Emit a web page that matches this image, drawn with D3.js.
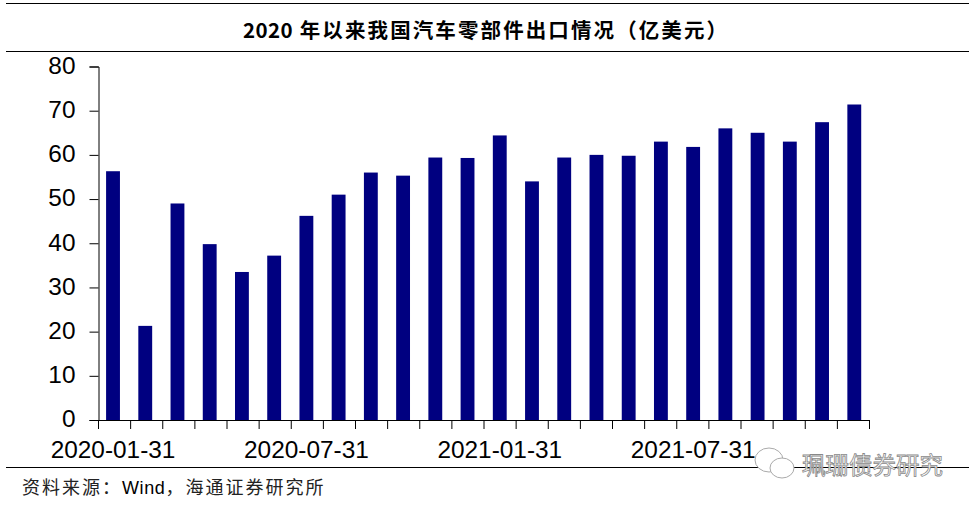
<!DOCTYPE html>
<html><head><meta charset="utf-8">
<script src="https://cdn.jsdelivr.net/npm/d3@7"></script>
<style>html,body{margin:0;padding:0;background:#fff}svg{display:block}</style>
</head><body><svg id="c" width="976" height="507"></svg>
<script>
const titleParts = ["2020"," 年以来我国汽车零部件出口情况（亿美元）"];
const sourceParts = ["资料来源：","Wind","，海通证券研究所"];
const watermarkText = "珮珊债券研究";
const categories = ["2020-01-31","2020-02-29","2020-03-31","2020-04-30","2020-05-31","2020-06-30","2020-07-31","2020-08-31","2020-09-30","2020-10-31","2020-11-30","2020-12-31","2021-01-31","2021-02-28","2021-03-31","2021-04-30","2021-05-31","2021-06-30","2021-07-31","2021-08-31","2021-09-30","2021-10-31","2021-11-30","2021-12-31"];
const values = [56.3,21.3,49,39.8,33.5,37.2,46.2,51,56,55.3,59.4,59.3,64.4,54,59.4,60,59.8,63,61.8,66,65,63,67.4,71.4];
const yTicks = [0,10,20,30,40,50,60,70,80];
const xLabels = ["2020-01-31","2020-07-31","2021-01-31","2021-07-31"];

const svg = d3.select("#c");
const sans = "'Liberation Sans',Arial,sans-serif";
const cjk = "'Noto Sans CJK SC',sans-serif";
const x = d3.scaleBand().domain(categories).range([96.9,870.4]).paddingInner(0.57).paddingOuter(0.285);
const y = d3.scaleLinear().domain([0,80]).range([420,66.5]);
const xTick = d3.scaleLinear().domain([0,categories.length]).range([98.5,869.5]);

[3.5,51.5,467.5].forEach(v=>svg.append("line").attr("x1",6).attr("x2",969).attr("y1",v).attr("y2",v).attr("stroke","#000").attr("stroke-width",1));

const ttl = svg.append("text").attr("x",243).attr("y",37.5)
  .attr("font-family",cjk).attr("font-weight",700).attr("font-size",20.5).attr("fill","#000");
titleParts.forEach((p,i)=>ttl.append("tspan").attr("letter-spacing",i===0?0.4:2.1).text(p));

svg.selectAll("rect.bar").data(values).join("rect").attr("class","bar")
  .attr("x",(d,i)=>x(categories[i])).attr("width",x.bandwidth())
  .attr("y",d=>y(d)).attr("height",d=>y(0)-y(d)).attr("fill","#000080");

const ay = svg.append("g").attr("transform","translate(98.5,0)")
  .call(d3.axisLeft(y).tickValues(yTicks).tickSize(9).tickPadding(14));
ay.selectAll("text").attr("dy","0.28em");
const ax = svg.append("g").attr("transform","translate(0,420)")
  .call(d3.axisBottom(x).tickValues(xLabels).tickSize(0).tickPadding(21));
ax.select("path").attr("d","M98.5,0.5H869.5");
ax.selectAll(".tick line").remove();
ax.selectAll("line.t").data(d3.range(categories.length+1)).join("line").attr("class","t")
  .attr("x1",d=>xTick(d)).attr("x2",d=>xTick(d)).attr("y1",0).attr("y2",9);
[ay,ax].forEach(a=>{a.selectAll("text").attr("font-family",sans).attr("font-size",24.4).attr("fill","#000");
  a.selectAll("path,line").attr("stroke","#000").attr("stroke-width",1);});

const src = svg.append("text").attr("x",22).attr("y",494).attr("font-family",cjk).attr("font-size",18).attr("fill","#222");
sourceParts.forEach((p,i)=>src.append("tspan").attr("font-family",i===1?sans:cjk).attr("fill",i===1?"#000":"#222").attr("letter-spacing",i===1?0.6:2).text(p));

// watermark
const wm = svg.append("g").attr("fill","#fff").attr("stroke","#aaa").attr("stroke-width",1);
wm.append("ellipse").attr("cx",769).attr("cy",460).attr("rx",14).attr("ry",12);
wm.append("ellipse").attr("cx",782).attr("cy",468).attr("rx",12).attr("ry",10);
svg.append("text").attr("x",802).attr("y",474).attr("font-family",cjk).attr("font-size",23.5)
  .attr("fill","#fff").attr("stroke","#888").attr("stroke-width",0.8).text(watermarkText);
</script></body></html>
